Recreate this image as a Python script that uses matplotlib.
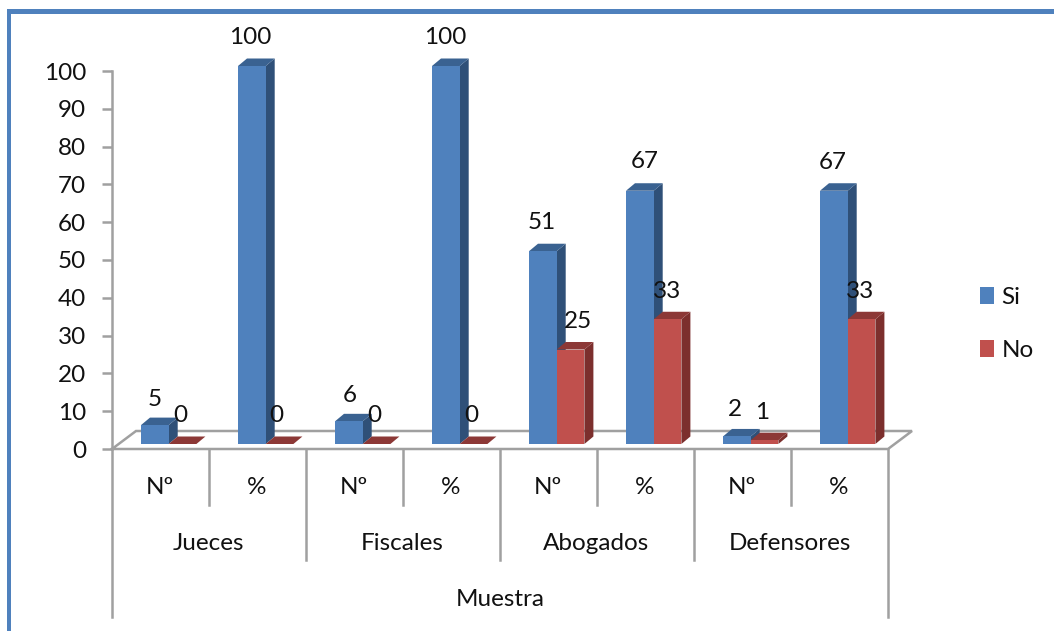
import numpy as np
import matplotlib
matplotlib.use("Agg")
import matplotlib.pyplot as plt
from matplotlib.patches import Rectangle

plt.rcParams['font.family'] = ['Lato', 'DejaVu Sans']

# datos de la muestra
grupos = ["Jueces", "Fiscales", "Abogados", "Defensores"]
columnas = ["Nº", "%", "Nº", "%", "Nº", "%", "Nº", "%"]
si = [5, 100, 6, 100, 51, 67, 2, 67]
no = [0, 0, 0, 0, 25, 33, 1, 33]
eje_titulo = "Muestra"
yticks = list(range(0, 101, 10))

W, H = 1054, 631
AX_L, AX_R, AX_B, AX_T = 112, 888, 449, 71
PX_Y = (AX_B - AX_T) / 100   # pixeles por unidad en y
PX_X = (AX_R - AX_L) / 8     # pixeles por categoria

AZUL, AZUL_LADO, AZUL_TOP = "#4F81BD", "#2F5078", "#3A6291"
ROJO, ROJO_LADO, ROJO_TOP = "#C0504D", "#7C2F2D", "#8C3836"
GRIS = "#A0A0A0"
FS = 17.5

fig = plt.figure(figsize=(W / 100, H / 100), dpi=100, facecolor="white")
ax = fig.add_axes([AX_L / W, 1 - AX_B / H, (AX_R - AX_L) / W, (AX_B - AX_T) / H])
ax.set_xlim(0, 8)
ax.set_ylim(0, 100)
ax.patch.set_alpha(0)

# marco azul
fig.add_artist(Rectangle((7 / W, 0), 4 / W, 1 - 9 / H, transform=fig.transFigure, color="#4F81BD", lw=0))
fig.add_artist(Rectangle((7 / W, 1 - 14 / H), 1047 / W, 5 / H, transform=fig.transFigure, color="#4F81BD", lw=0))

for s in ["top", "right", "bottom"]:
    ax.spines[s].set_visible(False)
ax.spines["left"].set_color(GRIS)
ax.spines["left"].set_linewidth(1.8)
ax.set_yticks(yticks)
ax.set_xticks([])
ax.tick_params(axis="y", length=7.5, width=1.8, color=GRIS, pad=11, labelsize=FS, labelcolor="#111111")


def px(v):
    return v / PX_X


def py(v):
    return v / PX_Y


# piso en perspectiva
piso_x = px(24)
piso_y = py(18)
ax.plot([0, piso_x, 8 + piso_x, 8, 0], [0, piso_y, piso_y, 0, 0], color=GRIS, lw=1.8, clip_on=False, zorder=1,
        solid_joinstyle="miter")

# barras con cara lateral y superior
ancho = 27.7 / PX_X
inicio = 29 / PX_X
base = py(5)
dx = px(9)
dy = py(7.5)
xpos = np.arange(8)


def barra_3d(x, valor, frente, lado, tope, z):
    ax.fill([x + ancho, x + ancho + dx, x + ancho + dx, x + ancho],
            [base, base + dy, base + valor + dy, base + valor], color=lado, lw=0, clip_on=False, zorder=z)
    ax.fill([x, x + dx, x + ancho + dx, x + ancho],
            [base + valor, base + valor + dy, base + valor + dy, base + valor], color=tope, lw=0, clip_on=False, zorder=z)
    ax.bar(x, valor, ancho, bottom=base, align="edge", color=frente, lw=0, clip_on=False, zorder=z)


for i in xpos:
    barra_3d(i + inicio, si[i], AZUL, AZUL_LADO, AZUL_TOP, 3 + i * 0.1)
    barra_3d(i + inicio + ancho, no[i], ROJO, ROJO_LADO, ROJO_TOP, 3 + i * 0.1 + 0.05)

# etiquetas de valor, algunas corridas a mano para que no tapen las barras
ajuste_si = {0: (0, 26), 1: (-2, 28), 2: (1, 26), 3: (-1, 28), 4: (-1, 29), 5: (5, 29), 6: (-2, 27), 7: (-1, 28)}
ajuste_no = {0: (-2, 28), 1: (-3, 28), 2: (-2, 28), 3: (-2, 28), 4: (7, 28), 5: (0, 28), 6: (-2, 28), 7: (-1, 28)}
for i in xpos:
    ax.annotate(str(si[i]), (i + inicio + ancho / 2, base + si[i]), xytext=ajuste_si[i],
                textcoords="offset pixels", ha="center", va="center", fontsize=FS, color="#111111",
                annotation_clip=False, zorder=10)
    ax.annotate(str(no[i]), (i + inicio + 1.5 * ancho, base + no[i]), xytext=ajuste_no[i],
                textcoords="offset pixels", ha="center", va="center", fontsize=FS, color="#111111",
                annotation_clip=False, zorder=10)

# eje de categorias con varios niveles
ax.plot([0, 0], [0, py(-168)], color=GRIS, lw=1.8, clip_on=False)
ax.plot([8, 8], [0, py(-168)], color=GRIS, lw=1.8, clip_on=False)
for i in range(1, 8):
    fondo = -111 if i % 2 == 0 else -56
    ax.plot([i, i], [0, py(fondo)], color=GRIS, lw=1.8, clip_on=False)

for i, c in enumerate(columnas):
    ax.annotate(c, (i + 0.5, 0), xytext=(-1, -38), textcoords="offset pixels", ha="center", va="center",
                fontsize=FS, color="#111111", annotation_clip=False)
for i, g in enumerate(grupos):
    ax.annotate(g, (2 * i + 1, 0), xytext=(-1, -94), textcoords="offset pixels", ha="center", va="center",
                fontsize=FS, color="#111111", annotation_clip=False)
ax.annotate(eje_titulo, (4, 0), xytext=(0, -150), textcoords="offset pixels", ha="center", va="center",
            fontsize=FS, color="#111111", annotation_clip=False)

# leyenda
handles = [Rectangle((0, 0), 1, 1, color=AZUL, lw=0), Rectangle((0, 0), 1, 1, color=ROJO, lw=0)]
fig.legend(handles, ["Si", "No"], loc="center left", bbox_to_anchor=(980 / W, 1 - 324 / H), frameon=False,
           fontsize=FS, labelcolor="#111111", handlelength=0.58, handleheight=0.7, handletextpad=0.3,
           labelspacing=1.35, borderpad=0, borderaxespad=0)

fig.savefig("out.png", dpi=100)
